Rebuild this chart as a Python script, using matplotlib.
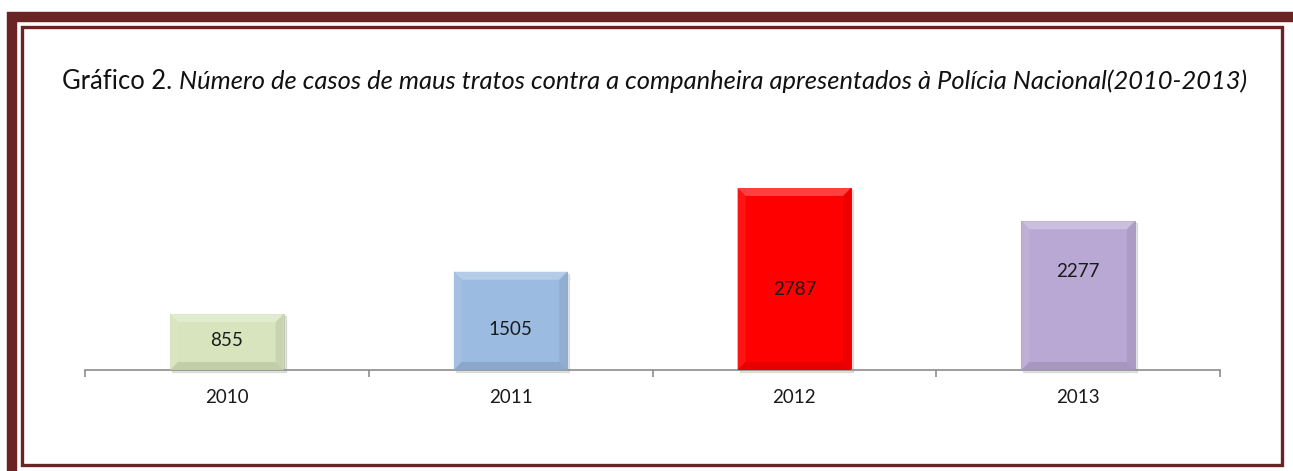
import matplotlib.pyplot as plt
import matplotlib.patches as mpatches
from matplotlib.colors import to_rgb
import numpy as np

# dados
anos = ["2010", "2011", "2012", "2013"]
casos = [855, 1505, 2787, 2277]
cores = ["#D7E4BD", "#9BBBE0", "#FF0000", "#B9A8D3"]

titulo_normal = "Gráfico 2. "
titulo_italico = "Número de casos de maus tratos contra a companheira apresentados à Polícia Nacional(2010-2013)"

# posição relativa do rótulo dentro de cada barra (0 = base, 1 = topo)
pos_rotulo = [0.52, 0.41, 0.44, 0.66]

W, H = 1293, 471
fig = plt.figure(figsize=(W / 100, H / 100), dpi=100)
plt.rcParams['font.family'] = ['Lato', 'DejaVu Sans']

# moldura
bordo = "#6A2423"
fig.patches.append(mpatches.Rectangle((12 / W, -0.05), 1.1, (H - 17) / H + 0.05,
                                      transform=fig.transFigure, fill=False,
                                      edgecolor=bordo, linewidth=7.5))
fig.patches.append(mpatches.Rectangle((21.5 / W, (H - 465) / H), (1282 - 21.5) / W, (465 - 26.5) / H,
                                      transform=fig.transFigure, fill=False,
                                      edgecolor=bordo, linewidth=2.4))

# eixos
base_px, esq_px, dir_px = 370, 85, 1220
ymax = 3000
escala = 0.0653  # px por caso
alt_px = ymax * escala
ax = fig.add_axes([esq_px / W, (H - base_px) / H, (dir_px - esq_px) / W, alt_px / H])
ax.set_xlim(-0.5, len(anos) - 0.5)
ax.set_ylim(0, ymax)
for s in ["top", "right", "left"]:
    ax.spines[s].set_visible(False)
ax.spines["bottom"].set_color("#8C8C8C")
ax.spines["bottom"].set_linewidth(1.2)
ax.set_yticks([])
ax.set_xticks(range(len(anos)))
ax.set_xticklabels(anos, fontsize=13.5, color="#1a1a1a")
ax.tick_params(axis="x", length=0, pad=14)
ax.set_xticks(np.arange(-0.5, len(anos)), minor=True)
ax.tick_params(axis="x", which="minor", length=5, color="#8C8C8C", width=1.2)

largura = 0.4
px_x = (dir_px - esq_px) / len(anos)
bx = 8 / px_x
by = 8 / escala


def ajusta(cor, f):
    r, g, b = to_rgb(cor)
    if f > 0:
        return (r + (1 - r) * f, g + (1 - g) * f, b + (1 - b) * f)
    return (r * (1 + f), g * (1 + f), b * (1 + f))


for i, (v, c) in enumerate(zip(casos, cores)):
    x0, x1 = i - largura / 2, i + largura / 2
    # sombra
    ax.add_patch(mpatches.Rectangle((x0 + 2 / px_x, -2 / escala), largura, v, color="#000000",
                                    alpha=0.10, zorder=1, clip_on=False))
    ax.bar(i, v, width=largura, color=c, zorder=2, edgecolor=ajusta(c, -0.12), linewidth=0.6)
    # bisel
    topo = [(x0, v), (x1, v), (x1 - bx, v - by), (x0 + bx, v - by)]
    baixo = [(x0, 0), (x1, 0), (x1 - bx, by), (x0 + bx, by)]
    esq = [(x0, 0), (x0, v), (x0 + bx, v - by), (x0 + bx, by)]
    dire = [(x1, 0), (x1, v), (x1 - bx, v - by), (x1 - bx, by)]
    for pts, f in [(topo, 0.25), (esq, 0.08), (dire, -0.07), (baixo, -0.1)]:
        ax.add_patch(mpatches.Polygon(pts, closed=True, color=ajusta(c, f), zorder=3, linewidth=0))
    ax.text(i, v * pos_rotulo[i], str(v), ha="center", va="center", fontsize=13.5,
            color="#1a1a1a", zorder=4)

# título (parte normal + parte itálica), ajustado à largura do original
x_ini, x_fim, y_base = 62, 1253, 89
tam = 14
t1 = fig.text(x_ini / W, (H - y_base) / H, titulo_normal, fontsize=tam, va="baseline",
              ha="left", color="#111111")
t2 = fig.text(0.5, (H - y_base) / H, titulo_italico, fontsize=tam, va="baseline",
              ha="left", style="italic", color="#111111")
r = fig.canvas.get_renderer()
larg = t1.get_window_extent(r).width + t2.get_window_extent(r).width
tam = tam * (x_fim - x_ini) / larg
t1.set_fontsize(tam)
t2.set_fontsize(tam)
t2.set_x(t1.get_window_extent(r).x1 / W)

fig.savefig("out.png", dpi=100)
